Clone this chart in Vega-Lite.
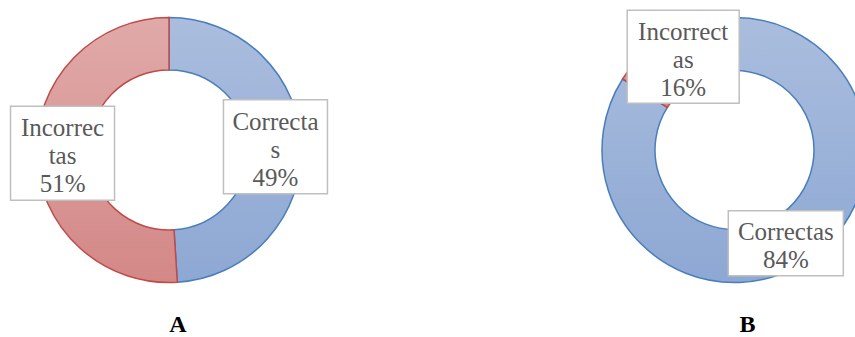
{
  "$schema": "https://vega.github.io/schema/vega-lite/v6.json",
  "padding": 0,
  "background": "white",
  "config": {"view": {"stroke": null}},
  "datasets": {
    "A": [
      {"cat": "Correctas", "v": 49, "label": ["Correcta", "s", "49%"]},
      {"cat": "Incorrectas", "v": 51, "label": ["Incorrec", "tas", "51%"]}
    ],
    "B": [
      {"cat": "Correctas", "v": 84, "label": ["Correctas", "84%"]},
      {"cat": "Incorrectas", "v": 16, "label": ["Incorrect", "as", "16%"]}
    ]
  },
  "hconcat": [
    {
      "width": 338,
      "height": 300,
      "data": {"name": "A"},
      "title": {"text": "A", "orient": "bottom", "frame": "group", "offset": 13, "dx": 9, "font": "Liberation Serif", "fontWeight": "bold", "fontSize": 24, "color": "#000000"},
      "transform": [
        {"stack": "v", "groupby": [], "sort": [{"field": "cat", "order": "ascending"}], "as": ["s0", "s1"]},
        {"calculate": "PI*(datum.s0+datum.s1)/100", "as": "mid"},
        {"calculate": "106.5*sin(datum.mid)", "as": "lx"},
        {"calculate": "106.5*cos(datum.mid)", "as": "ly"}
      ],
      "layer": [
        {
          "mark": {"type": "arc", "outerRadius": 132.5, "innerRadius": 80, "strokeWidth": 1.5},
          "encoding": {
            "x": {"datum": 0, "type": "quantitative", "scale": {"domain": [-169, 169], "nice": false, "zero": false}, "axis": null},
            "y": {"datum": 0, "type": "quantitative", "scale": {"domain": [-150, 150], "nice": false, "zero": false}, "axis": null},
            "theta": {"field": "s0", "type": "quantitative", "scale": {"domain": [0, 100]}},
            "theta2": {"field": "s1"},
            "fill": {
              "condition": {"test": "datum.cat === 'Correctas'", "value": {"gradient": "linear", "x1": 0, "y1": 0, "x2": 0, "y2": 1, "stops": [{"offset": 0, "color": "#AABDDE"}, {"offset": 1, "color": "#8DA8D3"}]}},
              "value": {"gradient": "linear", "x1": 0, "y1": 0, "x2": 0, "y2": 1, "stops": [{"offset": 0, "color": "#E0AAA9"}, {"offset": 1, "color": "#D38887"}]}
            },
            "stroke": {"condition": {"test": "datum.cat === 'Correctas'", "value": "#4A7EBB"}, "value": "#BE4B48"}
          }
        },
        {
          "mark": {"type": "rect", "width": 104, "height": 94, "fill": "white", "stroke": "#BFBFBF", "strokeWidth": 1.5},
          "encoding": {
            "x": {"field": "lx", "type": "quantitative", "scale": {"domain": [-169, 169], "nice": false, "zero": false}},
            "y": {"field": "ly", "type": "quantitative", "scale": {"domain": [-150, 150], "nice": false, "zero": false}}
          }
        },
        {
          "mark": {"type": "text", "font": "Liberation Serif", "fontSize": 25, "lineHeight": 28, "color": "#595959", "align": "center", "baseline": "middle", "dy": -25},
          "encoding": {
            "x": {"field": "lx", "type": "quantitative", "scale": {"domain": [-169, 169], "nice": false, "zero": false}},
            "y": {"field": "ly", "type": "quantitative", "scale": {"domain": [-150, 150], "nice": false, "zero": false}},
            "text": {"field": "label"}
          }
        }
      ]
    },
    {
      "width": 255,
      "height": 300,
      "data": {"name": "B"},
      "title": {"text": "B", "orient": "bottom", "frame": "group", "offset": 13, "dx": 20, "font": "Liberation Serif", "fontWeight": "bold", "fontSize": 24, "color": "#000000"},
      "transform": [
        {"stack": "v", "groupby": [], "sort": [{"field": "cat", "order": "ascending"}], "as": ["s0", "s1"]},
        {"calculate": "PI*(datum.s0+datum.s1)/100", "as": "mid"},
        {"calculate": "106.5*sin(datum.mid)", "as": "lx"},
        {"calculate": "106.5*cos(datum.mid)", "as": "ly"}
      ],
      "layer": [
        {
          "mark": {"type": "arc", "outerRadius": 132.5, "innerRadius": 79.5, "strokeWidth": 1.5, "clip": true},
          "encoding": {
            "x": {"datum": 0, "type": "quantitative", "scale": {"domain": [-134.5, 120.5], "nice": false, "zero": false}, "axis": null},
            "y": {"datum": 0, "type": "quantitative", "scale": {"domain": [-150, 150], "nice": false, "zero": false}, "axis": null},
            "theta": {"field": "s0", "type": "quantitative", "scale": {"domain": [0, 100]}},
            "theta2": {"field": "s1"},
            "fill": {
              "condition": {"test": "datum.cat === 'Correctas'", "value": {"gradient": "linear", "x1": 0, "y1": 0, "x2": 0, "y2": 1, "stops": [{"offset": 0, "color": "#AABDDE"}, {"offset": 1, "color": "#8DA8D3"}]}},
              "value": {"gradient": "linear", "x1": 0, "y1": 0, "x2": 0, "y2": 1, "stops": [{"offset": 0, "color": "#E0AAA9"}, {"offset": 1, "color": "#D38887"}]}
            },
            "stroke": {"condition": {"test": "datum.cat === 'Correctas'", "value": "#4A7EBB"}, "value": "#BE4B48"}
          }
        },
        {
          "transform": [{"filter": "datum.cat === 'Incorrectas'"}],
          "mark": {"type": "rect", "width": 112, "height": 93, "fill": "white", "stroke": "#BFBFBF", "strokeWidth": 1.5},
          "encoding": {
            "x": {"field": "lx", "type": "quantitative", "scale": {"domain": [-134.5, 120.5], "nice": false, "zero": false}},
            "y": {"field": "ly", "type": "quantitative", "scale": {"domain": [-150, 150], "nice": false, "zero": false}}
          }
        },
        {
          "transform": [{"filter": "datum.cat === 'Correctas'"}],
          "mark": {"type": "rect", "width": 115, "height": 65, "fill": "white", "stroke": "#BFBFBF", "strokeWidth": 1.5},
          "encoding": {
            "x": {"field": "lx", "type": "quantitative", "scale": {"domain": [-134.5, 120.5], "nice": false, "zero": false}},
            "y": {"field": "ly", "type": "quantitative", "scale": {"domain": [-150, 150], "nice": false, "zero": false}}
          }
        },
        {
          "transform": [{"filter": "datum.cat === 'Incorrectas'"}],
          "mark": {"type": "text", "font": "Liberation Serif", "fontSize": 25, "lineHeight": 28, "color": "#595959", "align": "center", "baseline": "middle", "dy": -25},
          "encoding": {
            "x": {"field": "lx", "type": "quantitative", "scale": {"domain": [-134.5, 120.5], "nice": false, "zero": false}},
            "y": {"field": "ly", "type": "quantitative", "scale": {"domain": [-150, 150], "nice": false, "zero": false}},
            "text": {"field": "label"}
          }
        },
        {
          "transform": [{"filter": "datum.cat === 'Correctas'"}],
          "mark": {"type": "text", "font": "Liberation Serif", "fontSize": 25, "lineHeight": 28, "color": "#595959", "align": "center", "baseline": "middle", "dy": -11},
          "encoding": {
            "x": {"field": "lx", "type": "quantitative", "scale": {"domain": [-134.5, 120.5], "nice": false, "zero": false}},
            "y": {"field": "ly", "type": "quantitative", "scale": {"domain": [-150, 150], "nice": false, "zero": false}},
            "text": {"field": "label"}
          }
        }
      ]
    }
  ],
  "spacing": 262
}
